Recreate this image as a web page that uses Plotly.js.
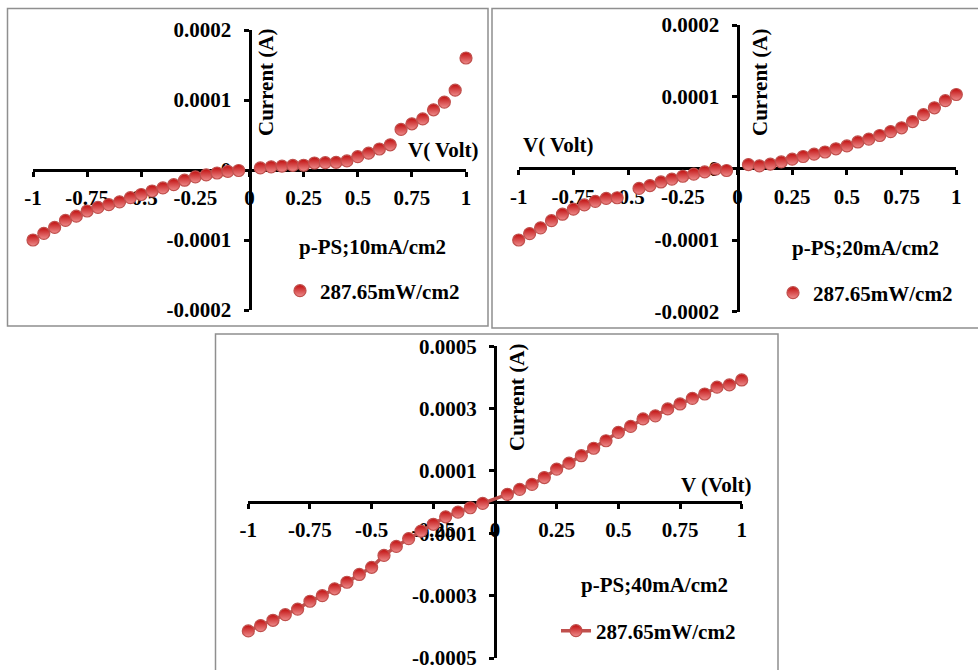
<!DOCTYPE html>
<html>
<head>
<meta charset="utf-8">
<script src="https://cdn.plot.ly/plotly-3.0.1.min.js"></script>
<style>html,body{margin:0;padding:0;background:#fff;}#chart{width:978px;height:670px;}</style>
</head>
<body>
<div id="chart"></div>
<script>
// ---- Data (voltage in V, current in A) ----
const voltage10 = [-1,-0.95,-0.9,-0.85,-0.8,-0.75,-0.7,-0.65,-0.6,-0.55,-0.5,-0.45,-0.4,-0.35,-0.3,-0.25,-0.2,-0.15,-0.1,-0.05,
                   0.05,0.1,0.15,0.2,0.25,0.3,0.35,0.4,0.45,0.5,0.55,0.6,0.65,0.7,0.75,0.8,0.85,0.9,0.95,1];
const current10 = [-1.00e-4,-0.905e-4,-0.82e-4,-0.72e-4,-0.66e-4,-0.586e-4,-0.535e-4,-0.495e-4,-0.455e-4,-0.395e-4,
                   -0.35e-4,-0.30e-4,-0.256e-4,-0.21e-4,-0.146e-4,-0.098e-4,-0.07e-4,-0.043e-4,-0.02e-4,-0.007e-4,
                   0.03e-4,0.045e-4,0.055e-4,0.065e-4,0.068e-4,0.10e-4,0.105e-4,0.11e-4,0.13e-4,0.19e-4,
                   0.24e-4,0.30e-4,0.36e-4,0.58e-4,0.66e-4,0.73e-4,0.86e-4,0.97e-4,1.14e-4,1.60e-4];

const voltage20 = [-1,-0.95,-0.9,-0.85,-0.8,-0.75,-0.7,-0.65,-0.6,-0.55,-0.45,-0.4,-0.35,-0.3,-0.25,-0.2,-0.15,-0.1,-0.05,
                   0.05,0.1,0.15,0.2,0.25,0.3,0.35,0.4,0.45,0.5,0.55,0.6,0.65,0.7,0.75,0.8,0.85,0.9,0.95,1];
const current20 = [-1.00e-4,-0.91e-4,-0.83e-4,-0.73e-4,-0.64e-4,-0.57e-4,-0.51e-4,-0.46e-4,-0.42e-4,-0.41e-4,
                   -0.28e-4,-0.24e-4,-0.19e-4,-0.15e-4,-0.11e-4,-0.08e-4,-0.05e-4,-0.01e-4,-0.03e-4,
                   0.053e-4,0.035e-4,0.058e-4,0.09e-4,0.128e-4,0.165e-4,0.198e-4,0.228e-4,0.273e-4,0.313e-4,
                   0.368e-4,0.408e-4,0.458e-4,0.513e-4,0.566e-4,0.653e-4,0.749e-4,0.845e-4,0.944e-4,1.03e-4];

const voltage40 = [-1,-0.95,-0.9,-0.85,-0.8,-0.75,-0.7,-0.65,-0.6,-0.55,-0.5,-0.45,-0.4,-0.35,-0.3,-0.25,-0.2,-0.15,-0.1,-0.05,
                   0.05,0.1,0.15,0.2,0.25,0.3,0.35,0.4,0.45,0.5,0.55,0.6,0.65,0.7,0.75,0.8,0.85,0.9,0.95,1];
const current40 = [-4.13e-4,-3.96e-4,-3.79e-4,-3.61e-4,-3.43e-4,-3.18e-4,-3.00e-4,-2.78e-4,-2.57e-4,-2.32e-4,
                   -2.09e-4,-1.71e-4,-1.42e-4,-1.17e-4,-0.93e-4,-0.71e-4,-0.47e-4,-0.32e-4,-0.18e-4,-0.04e-4,
                   0.25e-4,0.41e-4,0.57e-4,0.79e-4,1.06e-4,1.25e-4,1.49e-4,1.73e-4,1.97e-4,2.24e-4,
                   2.43e-4,2.67e-4,2.77e-4,2.99e-4,3.15e-4,3.33e-4,3.47e-4,3.69e-4,3.76e-4,3.92e-4];

const seriesName = '287.65mW/cm2';
const legendTitles = ['p-PS;10mA/cm2','p-PS;20mA/cm2','p-PS;40mA/cm2'];
const xTickVals = [-1,-0.75,-0.5,-0.25,0,0.25,0.5,0.75,1];
const xTickText = ['-1','-0.75','-0.5','-0.25','0','0.25','0.5','0.75','1'];
const yTickVals12 = [-0.0002,-0.0001,0,0.0001,0.0002];
const yTickText12 = ['-0.0002','-0.0001','0','0.0001','0.0002'];
const yTickVals3 = [-0.0005,-0.0003,-0.0001,0.0001,0.0003,0.0005];
const yTickText3 = ['-0.0005','-0.0003','-0.0001','0.0001','0.0003','0.0005'];

// ---- Styling helpers ----
const W = 978, H = 670;
const FONT = {family:'"Liberation Serif", "Times New Roman", serif', size:21, color:'#000', weight:'bold'};
const px = v => v / W;
const py = v => 1 - v / H;

const markerStyle = {
  size: 12, color: '#c00d0d',
  gradient: {type:'vertical', color:'#ee8c8c'},
  line: {color:'#c0504d', width:1.2}
};

function xAxis(d0, d1, posY) {
  return {domain:[px(d0), px(d1)], range:[-1,1], anchor:'free', position: py(posY),
    showline:true, linecolor:'#000', linewidth:3, ticks:'outside', ticklen:5, tickwidth:3, tickcolor:'#000',
    showgrid:false, zeroline:false, tickmode:'array', tickvals:xTickVals, ticktext:xTickText,
    tickfont:FONT, ticklabelstandoff:3, ticklabeloverflow:'allow', layer:'below traces', fixedrange:true};
}
function yAxis(d0, d1, posX, rng, tv, tt) {
  return {domain:[py(d1), py(d0)], range:rng, anchor:'free', position: px(posX), side:'left',
    showline:true, linecolor:'#000', linewidth:3, ticks:'outside', ticklen:5, tickwidth:3, tickcolor:'#000',
    showgrid:false, zeroline:false, tickmode:'array', tickvals:tv, ticktext:tt,
    tickfont:FONT, ticklabelstandoff:8, ticklabeloverflow:'allow', layer:'below traces', fixedrange:true};
}

const traces = [
  {x:voltage10, y:current10, xaxis:'x', yaxis:'y', mode:'markers', name:seriesName, legend:'legend',
   marker:markerStyle, cliponaxis:false, hoverinfo:'x+y'},
  {x:voltage20, y:current20, xaxis:'x2', yaxis:'y2', mode:'markers', name:seriesName, legend:'legend2',
   marker:markerStyle, cliponaxis:false, hoverinfo:'x+y'},
  {x:voltage40, y:current40, xaxis:'x3', yaxis:'y3', mode:'lines+markers', name:seriesName, legend:'legend3',
   line:{color:'#c0504d', width:3.5}, marker:markerStyle, cliponaxis:false, hoverinfo:'x+y'}
];

function legendCfg(x, yc) {
  return {x:px(x), y:py(yc), xanchor:'left', yanchor:'middle', bgcolor:'rgba(0,0,0,0)', borderwidth:0,
    font:FONT, itemwidth:30, tracegroupgap:0};
}
function ann(text, x, y, angle) {
  return {text:text, textangle:angle||0, xref:'paper', yref:'paper', x:px(x), y:py(y),
    xanchor:'center', yanchor:'middle', showarrow:false, font:FONT};
}

const layout = {
  width:W, height:H, margin:{l:0,r:0,t:0,b:0},
  paper_bgcolor:'#fff', plot_bgcolor:'rgba(0,0,0,0)', showlegend:true,
  xaxis: xAxis(33, 466, 170),
  yaxis: yAxis(30, 310, 249.5, [-0.0002,0.0002], yTickVals12, yTickText12),
  xaxis2: xAxis(518.7, 956.3, 168.3),
  yaxis2: yAxis(25, 311.7, 737.5, [-0.0002,0.0002], yTickVals12, yTickText12),
  xaxis3: xAxis(248.3, 741.7, 502.2),
  yaxis3: yAxis(346.3, 658, 495, [-0.0005,0.0005], yTickVals3, yTickText3),
  legend: legendCfg(280, 291),
  legend2: legendCfg(773, 293),
  legend3: legendCfg(556, 631),
  annotations: [
    ann('Current (A)', 266, 82, -90),
    ann('V( Volt)', 443, 150),
    ann(legendTitles[0], 372, 247),
    ann('Current (A)', 760, 82, -90),
    ann('V( Volt)', 558, 145),
    ann(legendTitles[1], 865, 248),
    ann('Current (A)', 517, 397, -90),
    ann('V (Volt)', 716, 485),
    ann(legendTitles[2], 654, 585)
  ],
  shapes: [
    {type:'rect', xref:'paper', yref:'paper', x0:px(7.5), x1:px(488), y0:py(326), y1:py(8.5), line:{color:'#8f8f8f', width:1.5}, layer:'below'},
    {type:'rect', xref:'paper', yref:'paper', x0:px(492), x1:px(985), y0:py(328), y1:py(8.5), line:{color:'#8f8f8f', width:1.5}, layer:'below'},
    {type:'rect', xref:'paper', yref:'paper', x0:px(215.5), x1:px(778), y0:py(680), y1:py(334), line:{color:'#8f8f8f', width:1.5}, layer:'below'}
  ]
};

Plotly.newPlot('chart', traces, layout, {displayModeBar:false, staticPlot:true});
</script>
</body>
</html>
